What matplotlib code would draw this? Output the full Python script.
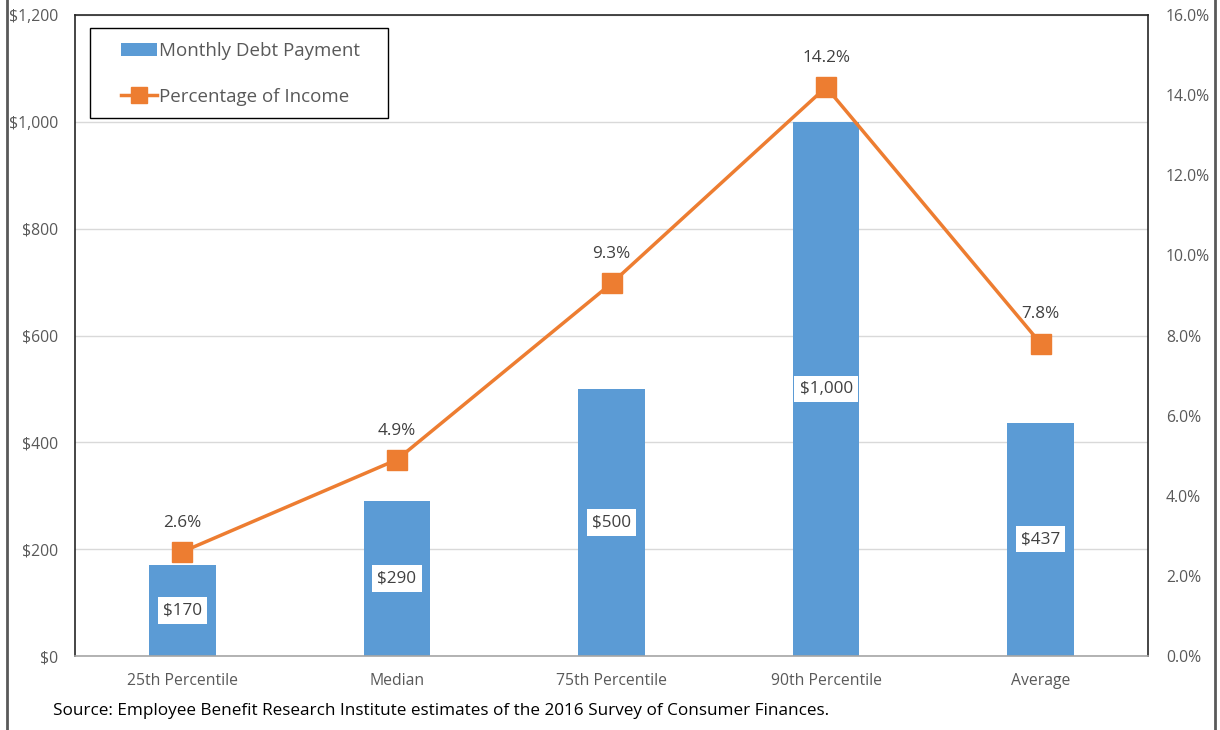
import matplotlib
matplotlib.use("Agg")
import matplotlib.pyplot as plt
from matplotlib.lines import Line2D
from matplotlib.patches import Patch, Rectangle

categories = ["25th Percentile", "Median", "75th Percentile", "90th Percentile", "Average"]
payments = [170, 290, 500, 1000, 437]
pct_income = [2.6, 4.9, 9.3, 14.2, 7.8]
payment_labels = ["$170", "$290", "$500", "$1,000", "$437"]
pct_labels = ["2.6%", "4.9%", "9.3%", "14.2%", "7.8%"]
left_ticks = [0, 200, 400, 600, 800, 1000, 1200]
left_tick_labels = ["$0", "$200", "$400", "$600", "$800", "$1,000", "$1,200"]
right_ticks = [0, 2, 4, 6, 8, 10, 12, 14, 16]
right_tick_labels = ["0.0%", "2.0%", "4.0%", "6.0%", "8.0%", "10.0%", "12.0%", "14.0%", "16.0%"]

plt.rcParams['font.family'] = ['Open Sans', 'DejaVu Sans']
BLUE = "#5B9BD5"
ORANGE = "#ED7D31"
GRAY = "#595959"

W, H = 1220, 730
fig = plt.figure(figsize=(12.2, 7.3), dpi=100)
ax = fig.add_axes([75/W, 1-656/H, (1148-75)/W, (656-15)/H])
x = list(range(len(categories)))
ax.bar(x, payments, width=0.31, color=BLUE, zorder=2)
ax.set_xlim(-0.5, len(categories)-0.5)
ax.set_ylim(0, 1200)
ax.set_yticks(left_ticks)
ax.set_yticklabels(left_tick_labels)
ax.set_xticks(x)
ax.set_xticklabels(categories)
ax.grid(axis='y', color='#D9D9D9', linewidth=1, zorder=0)
ax.set_axisbelow(True)
ax.tick_params(axis='both', length=0, labelsize=11.3, labelcolor=GRAY)
ax.tick_params(axis='x', pad=12)
ax.tick_params(axis='y', pad=12)
for side in ['left', 'top', 'right']:
    ax.spines[side].set_color('#262626')
    ax.spines[side].set_linewidth(1.2)
ax.spines['bottom'].set_color('#A6A6A6')
ax.spines['bottom'].set_linewidth(1.2)
for xi, v, lab in zip(x, payments, payment_labels):
    ax.text(xi, v/2, lab, ha='center', va='center',
            fontsize=12.3, color='#404040', zorder=5,
            bbox=dict(boxstyle='square,pad=0.3', facecolor='white', edgecolor='none'))

ax2 = ax.twinx()
ax2.plot(x, pct_income, color=ORANGE, linewidth=2.5, marker='s', markersize=14, zorder=3)
ax2.set_ylim(0, 16)
ax2.set_yticks(right_ticks)
ax2.set_yticklabels(right_tick_labels)
ax2.tick_params(axis='y', length=0, labelsize=11.3, labelcolor=GRAY, pad=13)
for side in ax2.spines:
    ax2.spines[side].set_visible(False)
for xi, v, lab in zip(x, pct_income, pct_labels):
    ax2.annotate(lab, (xi, v), xytext=(0, 21), textcoords='offset points', ha='center',
                 va='center', fontsize=12.3, color='#404040')

# legend box drawn manually
fig.add_artist(Rectangle((90/W, 1-118/H), (388-90)/W, (118-28)/H, transform=fig.transFigure,
                         facecolor='white', edgecolor='black', linewidth=1.0, zorder=10))
handles = [Patch(facecolor=BLUE, edgecolor='none'),
           Line2D([0], [0], color=ORANGE, linewidth=2.5, marker='s', markersize=11)]
leg = fig.legend(handles, ["Monthly Debt Payment", "Percentage of Income"],
                 loc='upper left', bbox_to_anchor=(121/W, 1-42/H),
                 fontsize=13.5, frameon=False,
                 labelcolor=GRAY, handlelength=1.9, handletextpad=0.15,
                 borderpad=0, labelspacing=1.47, borderaxespad=0)
leg.set_zorder(11)

fig.text(53/W, 1-711/H, "Source: Employee Benefit Research Institute estimates of the 2016 Survey of Consumer Finances.",
         fontsize=12.3, color='black', ha='left', va='center')
fig.add_artist(Line2D([7/W, 7/W], [0, 1], color='#595959', linewidth=2, transform=fig.transFigure))
fig.add_artist(Line2D([1215/W, 1215/W], [0, 1], color='#595959', linewidth=2, transform=fig.transFigure))

fig.savefig("out.png", dpi=100)
